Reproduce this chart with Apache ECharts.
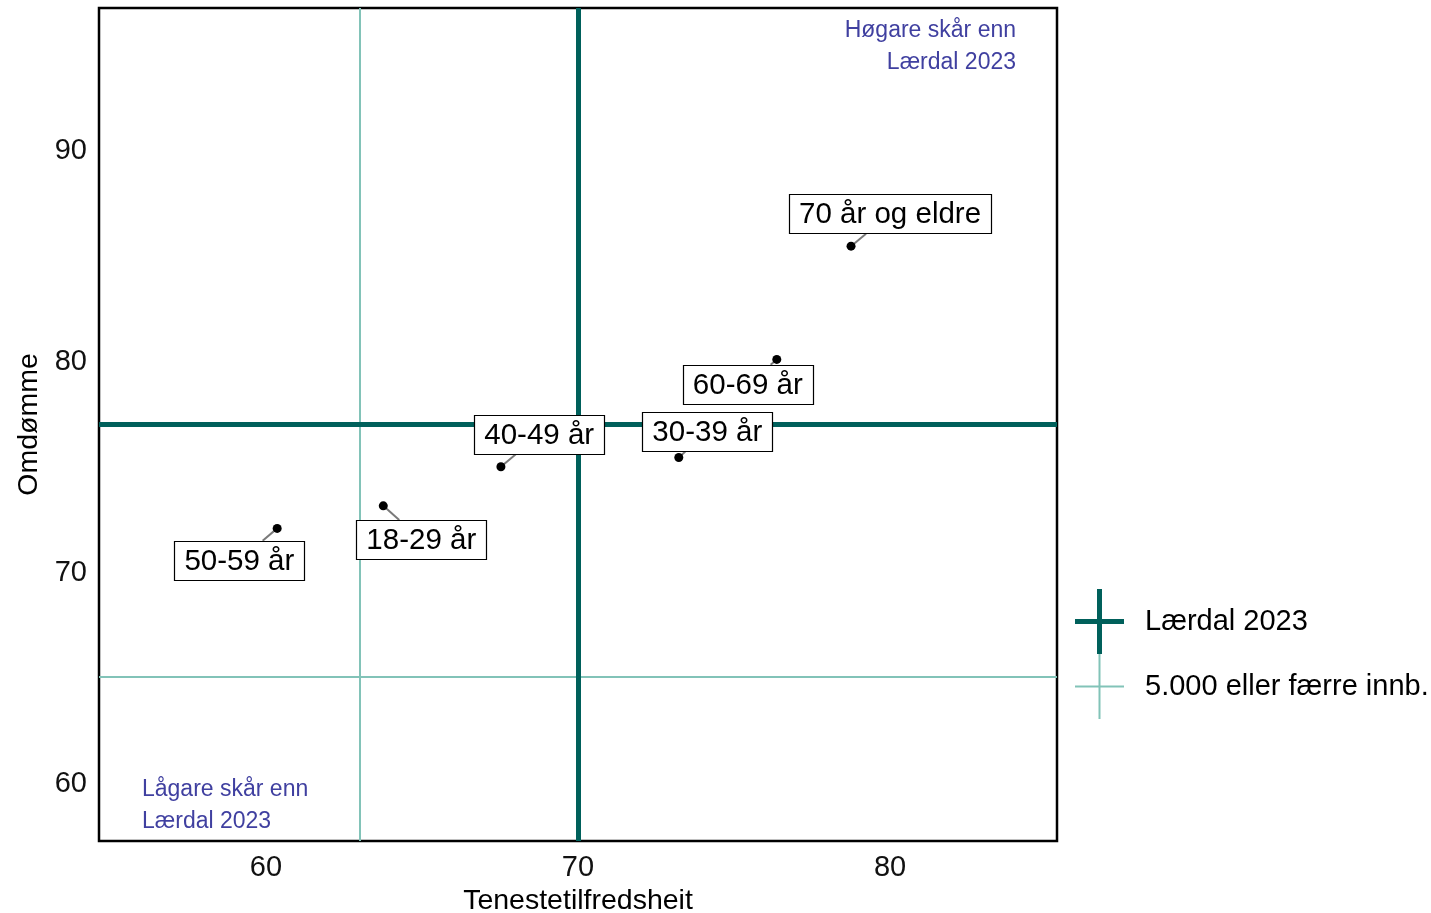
<!DOCTYPE html>
<html>
<head>
<meta charset="utf-8">
<script src="https://cdn.jsdelivr.net/npm/echarts@6/dist/echarts.min.js"></script>
<style>
html,body{margin:0;padding:0;background:#fff;}
#chart{width:1431px;height:913px;}
</style>
</head>
<body>
<div id="chart"></div>
<script>
// ---- data ----
const groups = ['18-29 år', '30-39 år', '40-49 år', '50-59 år', '60-69 år', '70 år og eldre'];
const serviceSatisfaction = [63.76, 73.23, 67.53, 60.36, 76.37, 78.75];
const reputation = [73.19, 75.48, 75.04, 72.12, 80.13, 85.5];
const refLaerdal = { x: 70.0, y: 77.04 };
const refSmall = { x: 63.0, y: 65.07 };
const xTicks = [60, 70, 80];
const yTicks = [60, 70, 80, 90];
const refNames = ['Lærdal 2023', '5.000 eller færre innb.'];

// label offsets (pixels) for the repelled labels
const labelOffsets = [[38, 34], [28.5, -25.6], [38.3, -32.2], [-37.8, 32], [-29, 25], [39, -32]];

const FONT = '"Liberation Sans", Arial, sans-serif';
const DARK = '#00605B';
const LIGHT = '#82C3B8';
const LABEL_SIZE = 29.5;

const measureCtx = document.createElement('canvas').getContext('2d');
measureCtx.font = LABEL_SIZE + 'px ' + FONT;
function textW(s) { return measureCtx.measureText(s).width; }

const chart = echarts.init(document.getElementById('chart'));
const points = groups.map((g, i) => ({ name: g, value: [serviceSatisfaction[i], reputation[i]] }));

const thickIcon = 'path://M0,30 L49,30 L49,35 L0,35 Z M22,0 L27,0 L27,65 L22,65 Z';
const thinIcon = 'path://M0,31.5 L49,31.5 L49,33.5 L0,33.5 Z M23.5,0 L25.5,0 L25.5,65 L23.5,65 Z';

function renderLabel(params, api) {
  const i = params.dataIndex;
  const p = api.coord([api.value(0), api.value(1)]);
  const off = labelOffsets[i];
  const cx = p[0] + off[0], cy = p[1] + off[1];
  const hw = textW(groups[i]) / 2 + 10, hh = 19.7;
  const dx = cx - p[0], dy = cy - p[1];
  const tx = Math.abs(dx) > hw ? (Math.abs(dx) - hw) / Math.abs(dx) : 0;
  const ty = Math.abs(dy) > hh ? (Math.abs(dy) - hh) / Math.abs(dy) : 0;
  const t = Math.max(tx, ty);
  const children = [];
  if (t > 0) {
    children.push({
      type: 'line', z2: 1,
      shape: { x1: p[0], y1: p[1], x2: p[0] + dx * t, y2: p[1] + dy * t },
      style: { stroke: '#7a7a7a', lineWidth: 2 }
    });
  }
  children.push({
    type: 'rect', z2: 2,
    shape: { x: Math.round(cx - hw) + 0.5, y: Math.round(cy - hh) + 0.5, width: Math.round(2 * hw), height: Math.round(2 * hh) },
    style: { fill: '#fff', stroke: '#000', lineWidth: 1.2 }
  });
  children.push({
    type: 'text', z2: 3,
    style: { text: groups[i], x: cx, y: cy + 1, align: 'center', verticalAlign: 'middle', fontSize: LABEL_SIZE, fontFamily: FONT, fill: '#000' }
  });
  return { type: 'group', children: children };
}

chart.setOption({
  animation: false,
  backgroundColor: '#fff',
  textStyle: { fontFamily: FONT },
  grid: { left: 99, top: 8, right: 374, bottom: 72, outerBoundsMode: 'none', containLabel: false, show: true, borderColor: '#000', borderWidth: 2.5, backgroundColor: '#fff' },
  xAxis: {
    type: 'value', min: 54.65, max: 85.35,
    name: 'Tenestetilfredsheit', nameLocation: 'middle', nameGap: 43,
    nameTextStyle: { fontSize: 28.5, color: '#000', fontFamily: FONT },
    axisLine: { show: false }, axisTick: { show: false }, splitLine: { show: false },
    axisLabel: { customValues: xTicks, fontSize: 29, color: '#111', margin: 12, fontFamily: FONT }
  },
  yAxis: {
    type: 'value', min: 57.3, max: 96.79,
    name: 'Omdømme', nameLocation: 'middle', nameGap: 52, nameRotate: 90,
    nameTextStyle: { fontSize: 28.5, color: '#000', fontFamily: FONT },
    axisLine: { show: false }, axisTick: { show: false }, splitLine: { show: false },
    axisLabel: { customValues: yTicks, fontSize: 29, color: '#111', margin: 12, fontFamily: FONT, padding: [4, 0, 0, 0] }
  },
  legend: {
    orient: 'vertical', left: 1075, top: 589, padding: 0, itemWidth: 49, itemHeight: 65, itemGap: 0,
    textStyle: { fontSize: 29, color: '#000', fontFamily: FONT, padding: [2, 0, 0, 16] },
    data: [
      { name: refNames[0], icon: thickIcon },
      { name: refNames[1], icon: thinIcon }
    ]
  },
  series: [
    {
      name: refNames[1], type: 'scatter', data: [], z: 2,
      itemStyle: { color: LIGHT, opacity: 1 }, silent: true,
      markLine: {
        silent: true, symbol: 'none', label: { show: false },
        lineStyle: { color: LIGHT, width: 2, type: 'solid', opacity: 1 },
        data: [{ xAxis: refSmall.x }, { yAxis: refSmall.y }]
      }
    },
    {
      name: refNames[0], type: 'scatter', data: [], z: 3,
      itemStyle: { color: DARK, opacity: 1 }, silent: true,
      markLine: {
        silent: true, symbol: 'none', label: { show: false },
        lineStyle: { color: DARK, width: 5, type: 'solid', opacity: 1 },
        data: [{ xAxis: refLaerdal.x }, { yAxis: refLaerdal.y }]
      }
    },
    {
      name: 'etikettar', type: 'custom', z: 9, data: points,
      encode: { x: 0, y: 1 }, silent: true,
      renderItem: renderLabel
    },
    {
      name: 'grupper', type: 'scatter', z: 10, data: points,
      symbolSize: 9, itemStyle: { color: '#000', opacity: 1 }, silent: true
    }
  ],
  graphic: [
    {
      type: 'text', x: 1016, y: 15, z: 20,
      style: { text: 'Høgare skår enn\nLærdal 2023', align: 'right', fill: '#4040A0', fontSize: 23, lineHeight: 32, fontFamily: FONT }
    },
    {
      type: 'text', x: 142, y: 774, z: 20,
      style: { text: 'Lågare skår enn\nLærdal 2023', align: 'left', fill: '#4040A0', fontSize: 23, lineHeight: 32, fontFamily: FONT }
    }
  ]
});
</script>
</body>
</html>
